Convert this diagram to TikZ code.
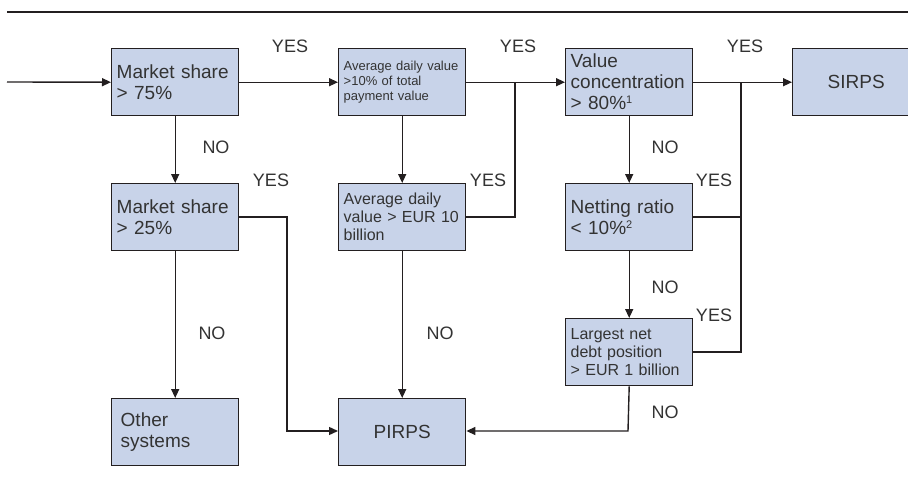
\documentclass[tikz,border=0pt]{standalone}
\usepackage{fontspec}
\setmainfont{Liberation Sans}
\usetikzlibrary{arrows.meta}
\definecolor{boxfill}{HTML}{C8D3E9}
\definecolor{linec}{HTML}{231F20}
\definecolor{txtc}{HTML}{333333}
\begin{document}
\begin{tikzpicture}[x=1pt,y=-1pt,
  box/.style={draw=linec, line width=1.4pt, fill=boxfill, minimum width=127pt, minimum height=67pt,
    text width=117pt, inner xsep=5pt, align=left, text=txtc, anchor=north west,
    font=\fontsize{19}{21}\selectfont},
  smallbox/.style={box, font=\fontsize{13}{15}\selectfont},
  midbox/.style={box, font=\fontsize{16}{18}\selectfont},
  lbl/.style={text=txtc, font=\fontsize{18}{20}\selectfont, inner sep=0pt},
  conn/.style={draw=linec, line width=1.4pt},
  arr/.style={conn, -{Triangle[length=9pt,width=8pt]}}]
\useasboundingbox (0,0) rectangle (908,479);
\draw[linec, line width=1.2pt] (7,12) -- (908,12);
% boxes
\node[box] (b1) at (111,48) {Market share\\> 75\%};
\node[smallbox] (b2) at (338,48) {Average daily value\\>10\% of total\\payment value};
\node[box] (b3) at (565,48) {Value\\concentration\\> 80\%\textsuperscript{\fontsize{11}{11}\selectfont 1}};
\node[box, align=center, text width=117pt] (b4) at (792,48) {SIRPS};
\node[box] (b5) at (111,183) {Market share\\> 25\%};
\node[midbox] (b6) at (338,183) {Average daily\\value > EUR 10\\billion};
\node[box] (b7) at (565,183) {Netting ratio\\< 10\%\textsuperscript{\fontsize{11}{11}\selectfont 2}};
\node[midbox] (b8) at (565,318) {Largest net\\debt position\\> EUR 1 billion};
\node[box, inner xsep=9pt, text width=109pt] (b9) at (111,398) {Other\\systems};
\node[box, align=center] (b10) at (338,398) {PIRPS};
% junction coordinates
\coordinate (in) at (7,82);
\coordinate (j1) at (515,82);
\coordinate (j2) at (741,82);
% connectors
\draw[arr] (in) -- (b1.west);
\draw[arr] (b1.east) -- (b2.west);
\draw[arr] (b2.east) -- (b3.west);
\draw[arr] (b3.east) -- (b4.west);
\draw[arr] (b1.south) -- (b5.north);
\draw[arr] (b5.south) -- (b9.north);
\draw[arr] (b2.south) -- (b6.north);
\draw[arr] (b6.south) -- (b10.north);
\draw[arr] (b3.south) -- (b7.north);
\draw[arr] (b7.south) -- (b8.north);
\draw[arr] (b5.east |- 0,217) -- (287,217) -- (287,431) -- (b10.west |- 0,431);
\draw[conn] (b6.east |- 0,217) -- (515,217) -- (j1);
\draw[conn] (b7.east |- 0,217) -- (741,217);
\draw[conn] (j2) -- (741,352) -- (b8.east |- 0,352);
\draw[arr] (b8.south) -- (628,431) -- (b10.east |- 0,431);
% labels
\node[lbl] (y1) at (290,46) {YES};
\node[lbl] (y2) at (518,46) {YES};
\node[lbl] (y3) at (745,46) {YES};
\node[lbl] (y4) at (271,180) {YES};
\node[lbl] (y5) at (488,180) {YES};
\node[lbl] (y6) at (714,180) {YES};
\node[lbl] (y7) at (714,315) {YES};
\node[lbl] (n1) at (216,147) {NO};
\node[lbl] (n2) at (212,333) {NO};
\node[lbl] (n3) at (440,333) {NO};
\node[lbl] (n4) at (665,147) {NO};
\node[lbl] (n5) at (665,287) {NO};
\node[lbl] (n6) at (665,412) {NO};
\end{tikzpicture}
\end{document}
